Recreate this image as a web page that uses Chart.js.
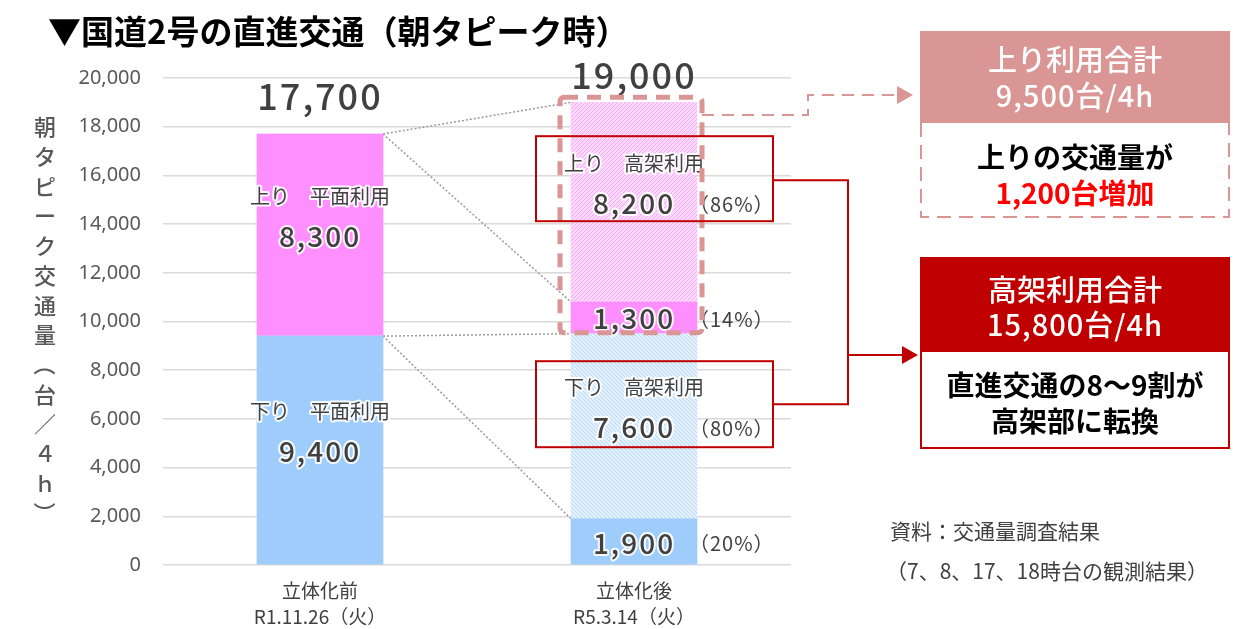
<!DOCTYPE html>
<html>
<head>
<meta charset="utf-8">
<script src="https://cdn.jsdelivr.net/npm/chart.js@4"></script>
<style>
  body { margin: 0; background: #fff; }
</style>
</head>
<body>
<canvas id="c" width="1247" height="629"></canvas>
<script>
const categories = ['立体化前', '立体化後'];
const surveyDates = ['R1.11.26（火）', 'R5.3.14（火）'];
const downSurface = [9400, 1900];
const downElevated = [0, 7600];
const upSurface = [8300, 1300];
const upElevated = [0, 8200];
const totals = [17700, 19000];
const segmentNames = ['下り　平面利用', '下り　高架利用', '上り　平面利用', '上り　高架利用'];
const yMax = 20000;
const yStep = 2000;
const axisTitle = '朝タピーク交通量（台／４ｈ）';

const JP = "'Noto Sans CJK JP', 'Noto Sans', sans-serif";
const fmt = v => v.toLocaleString('en-US');

function makeHatch(base, line, dir) {
    const n = 4;
    const c = document.createElement('canvas');
    c.width = n; c.height = n;
    const g = c.getContext('2d');
    g.fillStyle = base;
    g.fillRect(0, 0, n, n);
    g.strokeStyle = line;
    g.lineWidth = 1;
    g.beginPath();
    for (let o = -n; o <= n; o += n) {
        if (dir > 0) { g.moveTo(o - 1, n + 1); g.lineTo(o + n + 1, -1); }
        else { g.moveTo(o - 1, -1); g.lineTo(o + n + 1, n + 1); }
    }
    g.stroke();
    return g.createPattern(c, 'repeat');
}

const pinkSolid = '#ff8fff';
const blueSolid = '#9fcdfb';
const pinkHatch = makeHatch('#fcd8fc', '#f3adf3', 1);
const blueHatch = makeHatch('#e2f0fd', '#b8daf7', -1);

function haloText(ctx, text, x, y) {
    ctx.save();
    ctx.strokeStyle = 'rgba(255,255,255,0.9)';
    ctx.lineWidth = 4;
    ctx.lineJoin = 'round';
    ctx.strokeText(text, x, y);
    ctx.restore();
    ctx.fillText(text, x, y);
}

function arrowHead(ctx, x, y, color) {
    ctx.save();
    ctx.fillStyle = color;
    ctx.beginPath();
    ctx.moveTo(x - 16, y - 9);
    ctx.lineTo(x, y);
    ctx.lineTo(x - 16, y + 9);
    ctx.closePath();
    ctx.fill();
    ctx.restore();
}

const connectors = {
    id: 'connectors',
    beforeDatasetsDraw(chart) {
        const ctx = chart.ctx;
        const xs = chart.scales.x, ys = chart.scales.y;
        const half = 63;
        const r1 = xs.getPixelForValue(0) + half;
        const l2 = xs.getPixelForValue(1) - half;
        const links = [
            [totals[0], totals[1]],
            [totals[0], downSurface[1] + downElevated[1] + upSurface[1]],
            [downSurface[0], downSurface[1] + downElevated[1]],
            [downSurface[0], downSurface[1]]
        ];
        ctx.save();
        ctx.strokeStyle = '#9a9a9a';
        ctx.lineWidth = 1.5;
        ctx.setLineDash([2, 2]);
        links.forEach(([a, b]) => {
            ctx.beginPath();
            ctx.moveTo(r1, ys.getPixelForValue(a));
            ctx.lineTo(l2, ys.getPixelForValue(b));
            ctx.stroke();
        });
        ctx.restore();
    }
};

const overlay = {
    id: 'overlay',
    afterDraw(chart) {
        const ctx = chart.ctx;
        const xs = chart.scales.x, ys = chart.scales.y;
        const half = 63;
        const c2 = xs.getPixelForValue(1);
        const rose = '#d99694', red = '#c00000';
        ctx.save();

        // title
        ctx.fillStyle = '#000';
        ctx.font = 'bold 33px ' + JP;
        ctx.textAlign = 'left';
        ctx.textBaseline = 'middle';
        ctx.fillText('▼国道2号の直進交通（朝タピーク時）', 48, 31);

        // vertical axis title
        ctx.fillStyle = '#595959';
        ctx.font = '500 22px ' + JP;
        ctx.textAlign = 'center';
        const chars = Array.from(axisTitle);
        const step = (513 - 127) / (chars.length - 1);
        chars.forEach((ch, i) => {
            const y = 127 + i * step;
            if (ch === '（' || ch === '）') {
                ctx.save();
                ctx.translate(45, y);
                ctx.rotate(Math.PI / 2);
                ctx.fillText(ch, 0, 0);
                ctx.restore();
            } else {
                ctx.fillText(ch, 45, y);
            }
        });

        // totals
        ctx.fillStyle = '#404040';
        ctx.font = '500 36px ' + JP;
        ctx.letterSpacing = '2px';
        const totalOffsets = [38, 27];
        totals.forEach((t, i) => {
            ctx.fillText(fmt(t), xs.getPixelForValue(i), ys.getPixelForValue(t) - totalOffsets[i]);
        });

        // segment labels
        const series = [downSurface, downElevated, upSurface, upElevated];
        const upTotal = upSurface[1] + upElevated[1];
        const downTotal = downSurface[1] + downElevated[1];
        categories.forEach((_, i) => {
            let base = 0;
            series.forEach((arr, k) => {
                const v = arr[i];
                if (!v) return;
                const mid = ys.getPixelForValue(base + v / 2);
                base += v;
                const cx = xs.getPixelForValue(i);
                const showName = (i === 0) || (k === 1 || k === 3);
                ctx.fillStyle = '#404040';
                ctx.textAlign = 'center';
                if (showName) {
                    ctx.font = '20px ' + JP;
                    ctx.letterSpacing = '0px';
                    haloText(ctx, segmentNames[k], cx, mid - 39);
                }
                ctx.font = '500 28px ' + JP;
                ctx.letterSpacing = '2px';
                haloText(ctx, fmt(v), cx, mid + 1);
                if (i === 1) {
                    const share = Math.round(v / (k >= 2 ? upTotal : downTotal) * 100);
                    ctx.font = '20px ' + JP;
                    ctx.letterSpacing = '1px';
                    ctx.textAlign = 'left';
                    ctx.fillText('（' + share + '%）', cx + half - 8, mid + 2);
                }
            });
        });
        ctx.letterSpacing = '0px';

        // dashed rose frame around the up-direction part of bar 2
        const fTop = ys.getPixelForValue(totals[1]) - 5;
        const fBot = ys.getPixelForValue(downTotal) - 1;
        const fL = c2 - half - 11, fR = c2 + half + 5;
        ctx.strokeStyle = rose;
        ctx.lineWidth = 5;
        ctx.setLineDash([14, 9]);
        ctx.beginPath();
        ctx.roundRect(fL, fTop, fR - fL, fBot - fTop, 4);
        ctx.stroke();

        // dashed connector to the top-right box
        ctx.lineWidth = 2;
        ctx.setLineDash([12, 8]);
        ctx.beginPath();
        ctx.moveTo(fR, 115);
        ctx.lineTo(808, 115);
        ctx.lineTo(808, 95);
        ctx.lineTo(898, 95);
        ctx.stroke();
        ctx.setLineDash([]);
        arrowHead(ctx, 913, 95, rose);

        // red boxes around elevated labels
        const upMid = ys.getPixelForValue(downTotal + upSurface[1] + upElevated[1] / 2);
        const downMid = ys.getPixelForValue(downSurface[1] + downElevated[1] / 2);
        const bL = c2 - 98, bR = c2 + 139;
        ctx.strokeStyle = red;
        ctx.lineWidth = 2;
        ctx.strokeRect(bL, upMid - 66, bR - bL, 85);
        ctx.strokeRect(bL, downMid - 65, bR - bL, 86);
        ctx.beginPath();
        ctx.moveTo(bR, upMid - 22);
        ctx.lineTo(848, upMid - 22);
        ctx.lineTo(848, downMid - 22);
        ctx.lineTo(bR, downMid - 22);
        ctx.moveTo(848, 355);
        ctx.lineTo(902, 355);
        ctx.stroke();
        arrowHead(ctx, 918, 355, red);

        // right box 1
        const bx = 920, bw = 310, bcx = bx + bw / 2;
        ctx.fillStyle = rose;
        ctx.fillRect(bx, 31, bw, 92);
        ctx.strokeStyle = rose;
        ctx.lineWidth = 2;
        ctx.setLineDash([14, 8]);
        ctx.beginPath();
        ctx.moveTo(bx + 1, 123);
        ctx.lineTo(bx + 1, 217);
        ctx.lineTo(bx + bw - 1, 217);
        ctx.lineTo(bx + bw - 1, 123);
        ctx.stroke();
        ctx.setLineDash([]);
        ctx.textAlign = 'center';
        ctx.fillStyle = '#fff';
        ctx.font = '500 29px ' + JP;
        ctx.fillText('上り利用合計', bcx, 60);
        ctx.letterSpacing = '1px';
        ctx.fillText(fmt(upTotal) + '台/4h', bcx, 96);
        ctx.letterSpacing = '0px';
        ctx.fillStyle = '#000';
        ctx.font = 'bold 28px ' + JP;
        ctx.fillText('上りの交通量が', bcx, 157);
        ctx.fillStyle = '#ff0000';
        ctx.fillText(fmt(upTotal - upSurface[0]) + '台増加', bcx, 193);

        // right box 2
        ctx.fillStyle = red;
        ctx.fillRect(bx, 258, bw, 94);
        ctx.strokeStyle = red;
        ctx.lineWidth = 2;
        ctx.strokeRect(bx + 1, 258, bw - 2, 190);
        ctx.fillStyle = '#fff';
        ctx.font = '500 29px ' + JP;
        ctx.fillText('高架利用合計', bcx, 290);
        ctx.letterSpacing = '1px';
        ctx.fillText(fmt(upElevated[1] + downElevated[1]) + '台/4h', bcx, 325);
        ctx.letterSpacing = '0px';
        ctx.fillStyle = '#000';
        ctx.font = 'bold 28px ' + JP;
        ctx.fillText('直進交通の8～9割が', bcx, 385);
        ctx.fillText('高架部に転換', bcx, 421);

        // source note
        ctx.fillStyle = '#404040';
        ctx.font = '21px ' + JP;
        ctx.textAlign = 'left';
        ctx.fillText('資料：交通量調査結果', 890, 531);
        ctx.fillText('（7、8、17、18時台の観測結果）', 886, 571);

        ctx.restore();
    }
};

new Chart(document.getElementById('c'), {
    type: 'bar',
    data: {
        labels: categories,
        datasets: [
            { label: segmentNames[0], data: downSurface, backgroundColor: blueSolid },
            { label: segmentNames[1], data: downElevated, backgroundColor: blueHatch },
            { label: segmentNames[2], data: upSurface, backgroundColor: pinkSolid },
            { label: segmentNames[3], data: upElevated, backgroundColor: pinkHatch }
        ]
    },
    options: {
        responsive: false,
        animation: false,
        events: [],
        font: { family: JP },
        layout: { padding: { top: 78, right: 456, bottom: 0, left: 0 } },
        datasets: { bar: { barThickness: 126, borderWidth: 0 } },
        plugins: {
            legend: { display: false },
            tooltip: { enabled: false }
        },
        scales: {
            x: {
                stacked: true,
                grid: { display: false },
                border: { display: false },
                afterFit: s => { s.height = 64; },
                ticks: {
                    padding: 4,
                    color: '#404040',
                    font: { size: 19, family: JP, lineHeight: 1.4 },
                    callback: (v, i) => [categories[i], surveyDates[i]]
                }
            },
            y: {
                stacked: true,
                min: 0,
                max: yMax,
                afterFit: s => { s.width = 163; },
                grid: { color: '#d9d9d9', lineWidth: 1.5, drawTicks: false },
                border: { display: false },
                ticks: {
                    stepSize: yStep,
                    padding: 22,
                    color: '#595959',
                    font: { size: 20, family: "'Noto Sans', sans-serif" },
                    callback: v => fmt(v)
                }
            }
        }
    },
    plugins: [connectors, overlay]
});
</script>
</body>
</html>
